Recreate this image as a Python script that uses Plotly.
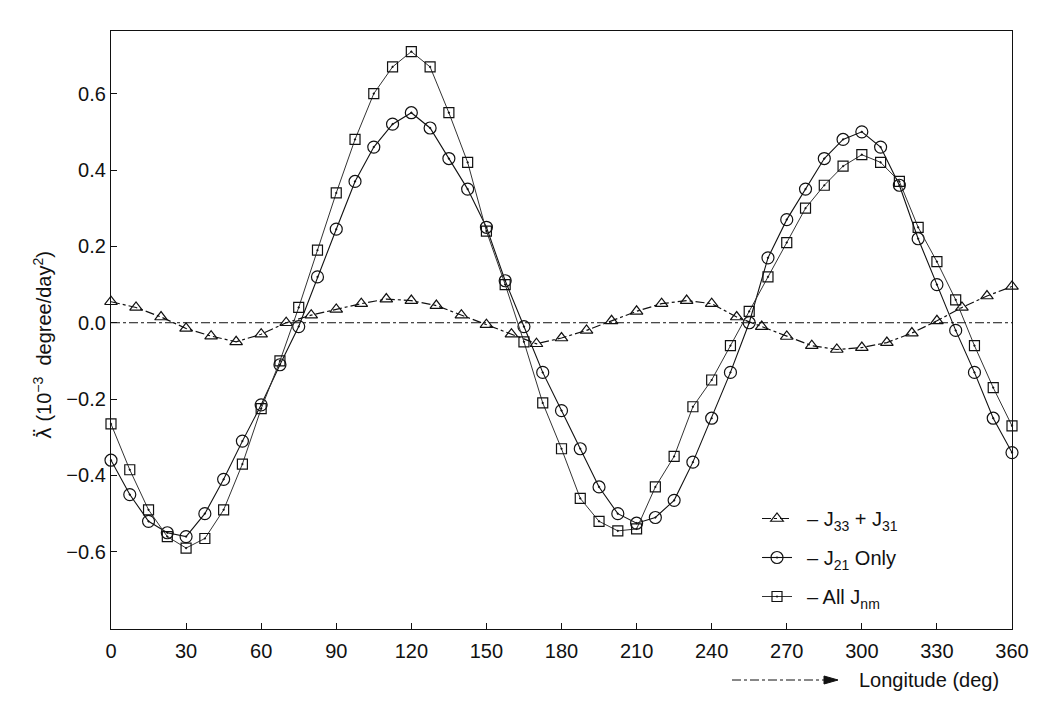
import plotly.graph_objects as go

# ---- data ----
lon_tri = [0, 10, 20, 30, 40, 50, 60, 70, 80, 90, 100, 110, 120, 130, 140, 150, 160, 170, 180,
           190, 200, 210, 220, 230, 240, 250, 260, 270, 280, 290, 300, 310, 320, 330, 340, 350, 360]
tri_j33_j31 = [0.055, 0.04, 0.015, -0.015, -0.035, -0.05, -0.03, 0.0, 0.02, 0.035, 0.05, 0.062, 0.058,
               0.045, 0.02, -0.005, -0.03, -0.055, -0.04, -0.02, 0.005, 0.03, 0.05, 0.058, 0.05, 0.015,
               -0.01, -0.036, -0.06, -0.07, -0.065, -0.052, -0.027, 0.005, 0.04, 0.07, 0.095]

lon_cs = [0, 7.5, 15, 22.5, 30, 37.5, 45, 52.5, 60, 67.5, 75, 82.5, 90, 97.5, 105, 112.5, 120,
          127.5, 135, 142.5, 150, 157.5, 165, 172.5, 180, 187.5, 195, 202.5, 210, 217.5, 225, 232.5,
          240, 247.5, 255, 262.5, 270, 277.5, 285, 292.5, 300, 307.5, 315, 322.5, 330, 337.5, 345,
          352.5, 360]
circ_j21 = [-0.36, -0.45, -0.52, -0.55, -0.56, -0.50, -0.41, -0.31, -0.215, -0.11, -0.01, 0.12, 0.245,
            0.37, 0.46, 0.52, 0.55, 0.51, 0.43, 0.35, 0.25, 0.11, -0.01, -0.13, -0.23, -0.33, -0.43,
            -0.50, -0.525, -0.51, -0.465, -0.365, -0.25, -0.13, 0.0, 0.17, 0.27, 0.35, 0.43, 0.48,
            0.50, 0.46, 0.36, 0.22, 0.10, -0.02, -0.13, -0.25, -0.34]
sq_all = [-0.265, -0.385, -0.49, -0.56, -0.59, -0.565, -0.49, -0.37, -0.225, -0.10, 0.04, 0.19, 0.34,
          0.48, 0.60, 0.67, 0.71, 0.67, 0.55, 0.42, 0.24, 0.10, -0.05, -0.21, -0.33, -0.46, -0.52,
          -0.545, -0.54, -0.43, -0.35, -0.22, -0.15, -0.06, 0.03, 0.12, 0.21, 0.30, 0.36, 0.41,
          0.44, 0.42, 0.37, 0.25, 0.16, 0.06, -0.06, -0.17, -0.27]

x_ticks = [0, 30, 60, 90, 120, 150, 180, 210, 240, 270, 300, 330, 360]
y_ticks = [-0.6, -0.4, -0.2, 0.0, 0.2, 0.4, 0.6]

FONT = "Liberation Sans, Arial, sans-serif"
INK = "#111111"
FS = 20

fig = go.Figure()

fig.add_trace(go.Scatter(
    x=lon_tri, y=tri_j33_j31, mode="lines+markers", name="\u2002– J<sub>33</sub> + J<sub>31</sub>",
    legendgroup="a", cliponaxis=False,
    line=dict(color=INK, width=1.2, dash="dashdot"),
    marker=dict(symbol="triangle-up-open", size=11, color=INK, line=dict(width=1.2, color=INK))))
fig.add_trace(go.Scatter(
    x=lon_cs, y=circ_j21, mode="lines+markers", name="\u2002– J<sub>21</sub> Only",
    legendgroup="b", cliponaxis=False,
    line=dict(color=INK, width=1.1),
    marker=dict(symbol="circle-open-dot", size=12, color=INK, line=dict(width=1.2, color=INK))))
fig.add_trace(go.Scatter(
    x=lon_cs, y=sq_all, mode="lines+markers", name="\u2002– All J<sub>nm</sub>",
    legendgroup="c", cliponaxis=False,
    line=dict(color="#333333", width=1.0),
    marker=dict(symbol="square-open-dot", size=10, color=INK, line=dict(width=1.2, color=INK))))

# dash-dot zero line
fig.add_hline(y=0, line=dict(color=INK, width=1, dash="dashdot"), layer="below")

axis_common = dict(showline=True, linecolor=INK, linewidth=1.3, mirror=True, ticks="inside",
                   ticklen=6, tickwidth=1.2, tickcolor=INK, showgrid=False, zeroline=False,
                   tickfont=dict(family=FONT, size=FS, color=INK))

fig.update_xaxes(range=[0, 360], tickvals=x_ticks, ticktext=[str(v) for v in x_ticks],
                 ticklabelstandoff=4, **axis_common)
fig.update_yaxes(range=[-0.802, 0.764], tickvals=y_ticks, tickformat=".1f", **axis_common)

X0, W = 111, 901
Y0, H = 629, 598
def px(xp):
    return (xp - X0) / W
def py(yp):
    return (Y0 - yp) / H

# y-axis title
fig.add_annotation(text='<span style="font-family:DejaVu Sans">λ̈</span> (10<sup>−3</sup>  degree/day<sup>2</sup>)',
                   xref="paper", yref="paper",
                   x=px(43), y=py(345), xanchor="center", yanchor="middle",
                   textangle=-90, showarrow=False,
                   font=dict(family=FONT, size=FS, color=INK))

# x-axis title with dash-dot arrow
AY = 680
fig.add_shape(type="line", xref="paper", yref="paper", x0=px(732), x1=px(826), y0=py(AY), y1=py(AY),
              line=dict(color=INK, width=1, dash="dashdot"))
fig.add_shape(type="path", xref="paper", yref="paper",
              path=f"M {px(824)} {py(AY - 4)} L {px(838)} {py(AY)} L {px(824)} {py(AY + 4)} Z",
              fillcolor=INK, line=dict(color=INK, width=1))
fig.add_annotation(text="Longitude (deg)", xref="paper", yref="paper", x=px(857), y=py(AY),
                   xanchor="left", yanchor="middle", showarrow=False,
                   font=dict(family=FONT, size=FS, color=INK))

fig.update_layout(
    width=1049, height=710,
    margin=dict(l=111, r=37, t=31, b=81),
    paper_bgcolor="white", plot_bgcolor="white",
    showlegend=True,
    legend=dict(x=px(757), y=py(499), xanchor="left", yanchor="top", bgcolor="rgba(0,0,0,0)",
                font=dict(family=FONT, size=FS, color=INK), tracegroupgap=10, itemwidth=30),
)

fig.write_html("out.html")
